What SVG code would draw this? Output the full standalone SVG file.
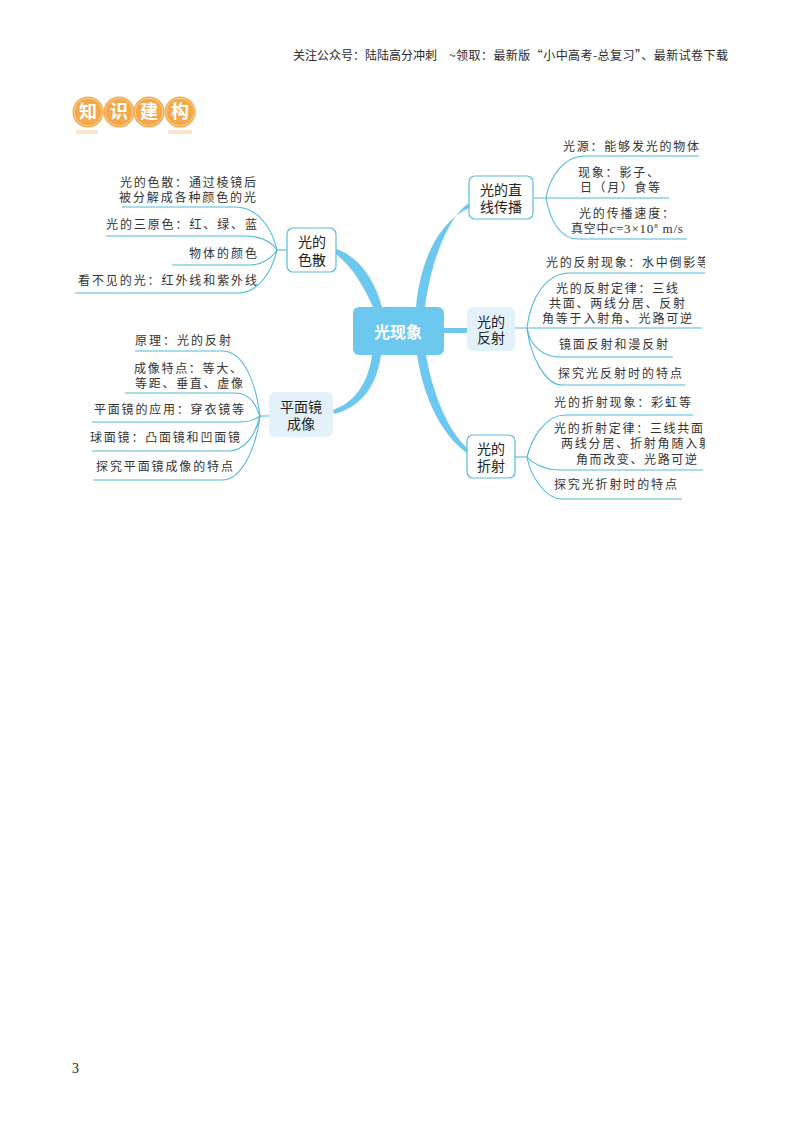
<svg xmlns="http://www.w3.org/2000/svg" width="800" height="1132" viewBox="0 0 800 1132">
<defs>
<style>
text{font-family:"Noto Sans CJK SC","Noto Sans",sans-serif;fill:#333}
.l{font-size:12px}
.b{font-size:14px;text-anchor:middle;fill:#222}
.h{font-size:12px;fill:#2a2a2a}
.c{fill:none;stroke:#4fb9d8;stroke-width:1.1}
.t{fill:#6cc8ef}
.so{fill:#fff;stroke:#5cbcdc;stroke-width:1.2}
.pa{fill:#e3f2fa}
.bd{font-size:18px;font-weight:700;fill:#fff;text-anchor:middle}
.ci{fill:#f3a949}
.ri{fill:none;stroke:#fbdcae;stroke-width:.8}
.bar{fill:#fbe4c8}
</style>
<clipPath id="clip"><rect x="0" y="0" width="705" height="1132"/></clipPath>
</defs>
<rect width="800" height="1132" fill="#fff"/>
<g id="header">
<text class="h" x="293" y="60" textLength="144">关注公众号：陆陆高分冲刺</text>
<text class="h" x="449" y="60" textLength="279">~领取：最新版“小中高考-总复习”、最新试卷下载</text>
</g>
<g id="badge">
<circle class="ci" cx="88" cy="112" r="15.5"/><circle class="ci" cx="119" cy="112" r="15.5"/><circle class="ci" cx="149" cy="112" r="15.5"/><circle class="ci" cx="180" cy="112" r="15.5"/>
<circle class="ri" cx="88" cy="112" r="13.8"/><circle class="ri" cx="119" cy="112" r="13.8"/><circle class="ri" cx="149" cy="112" r="13.8"/><circle class="ri" cx="180" cy="112" r="13.8"/>
<rect class="bar" x="76" y="130" width="22" height="4"/><rect class="bar" x="168" y="130" width="24" height="4"/>
<text class="bd" x="88" y="118">知</text><text class="bd" x="119" y="118">识</text><text class="bd" x="149" y="118">建</text><text class="bd" x="180" y="118">构</text>
</g>
<g id="connectors">
<path class="t" d="M336 249C358 256 374 278 382 307L373 307C362 282 350 265 336 254Z"/>
<path class="t" d="M469 203C450 216 432 255 425 307L416 307C420 262 438 222 469 208Z"/>
<rect class="t" x="444" y="328" width="24" height="5"/>
<path class="t" d="M417 355C424 400 442 435 467 453L467 448C450 432 434 400 426 355Z"/>
<path class="t" d="M333 410C353 403 368 385 372 355L381 355C376 390 358 408 334 414Z"/>
<path class="c" d="M122 207H235C258 207 272 228 277 250"/>
<path class="c" d="M106 236H245C262 236 272 243 277 250"/>
<path class="c" d="M172 265H250C262 265 272 258 277 250"/>
<path class="c" d="M75 293H238C258 293 272 272 277 250"/>
<path class="c" d="M277 250H287"/>
<path class="c" d="M135 351H222C245 351 256 385 260 416"/>
<path class="c" d="M125 393H235C250 393 256 405 260 416"/>
<path class="c" d="M92 422H240C250 422 256 419 260 416"/>
<path class="c" d="M92 451H228C246 451 256 433 260 416"/>
<path class="c" d="M93 480H222C242 480 256 448 260 416"/>
<path class="c" d="M260 416H269"/>
<path class="c" d="M534 198H669"/>
<path class="c" d="M546 198C550 175 565 156 585 156H699"/>
<path class="c" d="M546 198C550 220 560 239 578 239H687"/>
<path class="c" d="M515 328H702"/>
<path class="c" d="M527 328C530 300 545 273 570 273H705"/>
<path class="c" d="M527 328C530 345 542 357 560 357H673"/>
<path class="c" d="M527 328C530 355 545 385 562 385H685"/>
<path class="c" d="M515 457H527"/>
<path class="c" d="M527 457C532 438 545 415 565 415H693"/>
<path class="c" d="M527 457C532 463 545 470 560 470H703"/>
<path class="c" d="M527 457C530 475 545 499 562 499H682"/>
</g>
<g id="center"><rect class="t" x="353" y="307" width="91" height="48" rx="6"/><text x="398" y="338" style="font-size:16px;font-weight:700;fill:#fff;text-anchor:middle">光现象</text></g>
<g id="node-sejia"><rect class="so" x="287" y="228" width="49" height="44" rx="6"/><text class="b" x="312" y="247">光的</text><text class="b" x="312" y="265">色散</text></g>
<g id="node-pingmian"><rect class="pa" x="269" y="392" width="64" height="45" rx="6"/><text class="b" x="301" y="412">平面镜</text><text class="b" x="301" y="429">成像</text></g>
<g id="node-zhixian"><rect class="so" x="469" y="176" width="64" height="43" rx="6"/><text class="b" x="501" y="195">光的直</text><text class="b" x="501" y="212">线传播</text></g>
<g id="node-fanshe"><rect class="pa" x="467" y="307" width="48" height="44" rx="6"/><text class="b" x="491" y="327">光的</text><text class="b" x="491" y="343">反射</text></g>
<g id="node-zheshe"><rect class="so" x="467" y="435" width="48" height="43" rx="6"/><text class="b" x="491" y="454">光的</text><text class="b" x="491" y="471">折射</text></g>
<g id="leaves-left">
<text class="l" x="120" y="187" textLength="136">光的色散：通过棱镜后</text>
<text class="l" x="119" y="202" textLength="137">被分解成各种颜色的光</text>
<text class="l" x="106" y="229" textLength="151">光的三原色：红、绿、蓝</text>
<text class="l" x="189" y="258" textLength="68">物体的颜色</text>
<text class="l" x="78" y="285" textLength="179">看不见的光：红外线和紫外线</text>
<text class="l" x="135" y="345" textLength="96">原理：光的反射</text>
<text class="l" x="134" y="373" textLength="108">成像特点：等大、</text>
<text class="l" x="135" y="388" textLength="108">等距、垂直、虚像</text>
<text class="l" x="94" y="414" textLength="150">平面镜的应用：穿衣镜等</text>
<text class="l" x="90" y="442" textLength="150">球面镜：凸面镜和凹面镜</text>
<text class="l" x="96" y="471" textLength="137">探究平面镜成像的特点</text>
</g>
<g id="leaves-right" clip-path="url(#clip)">
<text class="l" x="563" y="151" textLength="136">光源：能够发光的物体</text>
<text class="l" x="578" y="177" textLength="81">现象：影子、</text>
<text class="l" x="580" y="192" textLength="80">日（月）食等</text>
<text class="l" x="579" y="218" textLength="95">光的传播速度：</text>
<text x="571" y="233" style="font-size:12px;letter-spacing:.8px">真空中<tspan style="font-family:'Liberation Serif',serif;font-style:italic;font-size:13px">c</tspan><tspan style="font-family:'Liberation Serif',serif;font-size:13px">=3×10</tspan><tspan dy="-5" style="font-family:'Liberation Serif',serif;font-size:7px">8</tspan><tspan dy="5" style="font-family:'Liberation Serif',serif;font-size:13px"> m/s</tspan></text>
<text class="l" x="546" y="267" textLength="163">光的反射现象：水中倒影等</text>
<text class="l" x="556" y="293" textLength="122">光的反射定律：三线</text>
<text class="l" x="549" y="308" textLength="136">共面、两线分居、反射</text>
<text class="l" x="542" y="323" textLength="150">角等于入射角、光路可逆</text>
<text class="l" x="559" y="349" textLength="109">镜面反射和漫反射</text>
<text class="l" x="558" y="378" textLength="124">探究光反射时的特点</text>
<text class="l" x="554" y="407" textLength="137">光的折射现象：彩虹等</text>
<text class="l" x="554" y="433" textLength="149">光的折射定律：三线共面</text>
<text class="l" x="561" y="448" textLength="150">两线分居、折射角随入射</text>
<text class="l" x="576" y="464" textLength="121">角而改变、光路可逆</text>
<text class="l" x="554" y="489" textLength="123">探究光折射时的特点</text>
</g>
<text id="page" x="72" y="1073" style="font-family:'Liberation Serif',serif;font-size:14px;fill:#222">3</text>
</svg>
